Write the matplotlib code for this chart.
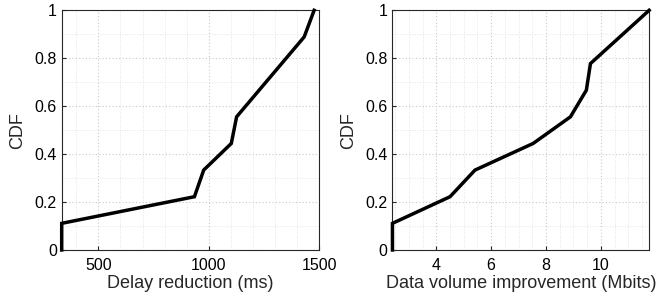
import matplotlib
matplotlib.use("Agg")
import matplotlib.pyplot as plt
import numpy as np
from matplotlib.ticker import MultipleLocator

plt.rcParams['font.family'] = ['Liberation Sans', 'DejaVu Sans']

delay_ms = [334, 935, 977, 1102, 1126, 1228, 1330, 1432, 1477]
volume_mbits = [2.4, 4.5, 5.41, 7.53, 8.89, 9.47, 9.62, 10.69, 11.76]
cdf_levels = [0, 1/9, 2/9, 3/9, 4/9, 5/9, 6/9, 7/9, 8/9, 1]


def ecdf_xy(vals):
    v = sorted(vals)
    x = [v[0]] + v
    return x, cdf_levels


fig = plt.figure(figsize=(6.72, 3.03), dpi=100)
ax1 = fig.add_axes([0.0918, 0.175, 0.3832, 0.791])
ax2 = fig.add_axes([0.584, 0.175, 0.382, 0.791])

specs = [
    (ax1, delay_ms, 'Delay reduction (ms)', (334, 1500), 100, [500, 1000, 1500]),
    (ax2, volume_mbits, 'Data volume improvement (Mbits)', (2.4, 11.76), 0.5, [4, 6, 8, 10]),
]

for ax, vals, xlabel, xlim, mnr, ticks in specs:
    x, y = ecdf_xy(vals)
    ax.plot(x, y, color='black', lw=2.5, solid_joinstyle='miter', clip_on=False, zorder=5)
    ax.set_xlim(*xlim)
    ax.set_ylim(0, 1)
    ax.set_xticks(ticks)
    ax.xaxis.set_minor_locator(MultipleLocator(mnr))
    ax.set_yticks([0, 0.2, 0.4, 0.6, 0.8, 1])
    ax.set_yticklabels(['0', '0.2', '0.4', '0.6', '0.8', '1'])
    ax.yaxis.set_minor_locator(MultipleLocator(0.1))
    ax.grid(True, which='major', color='#c8c8c8', linestyle=(0, (1, 2)), lw=0.8)
    ax.grid(True, which='minor', color='#dcdcdc', linestyle=(0, (1, 2)), lw=0.6)
    ax.tick_params(which='both', direction='in', top=False, right=False, labelsize=11.5, color='#262626')
    ax.tick_params(which='major', length=3)
    ax.tick_params(axis='x', which='major', pad=6)
    ax.tick_params(which='minor', length=0)
    for s in ax.spines.values():
        s.set_color('#262626')
        s.set_linewidth(0.8)
    ax.set_xlabel(xlabel, fontsize=13, labelpad=1, color='#262626')
    ax.set_ylabel('CDF', fontsize=13, labelpad=6, color='#262626')
    ax.set_axisbelow(True)

fig.savefig('out.png', dpi=100)
